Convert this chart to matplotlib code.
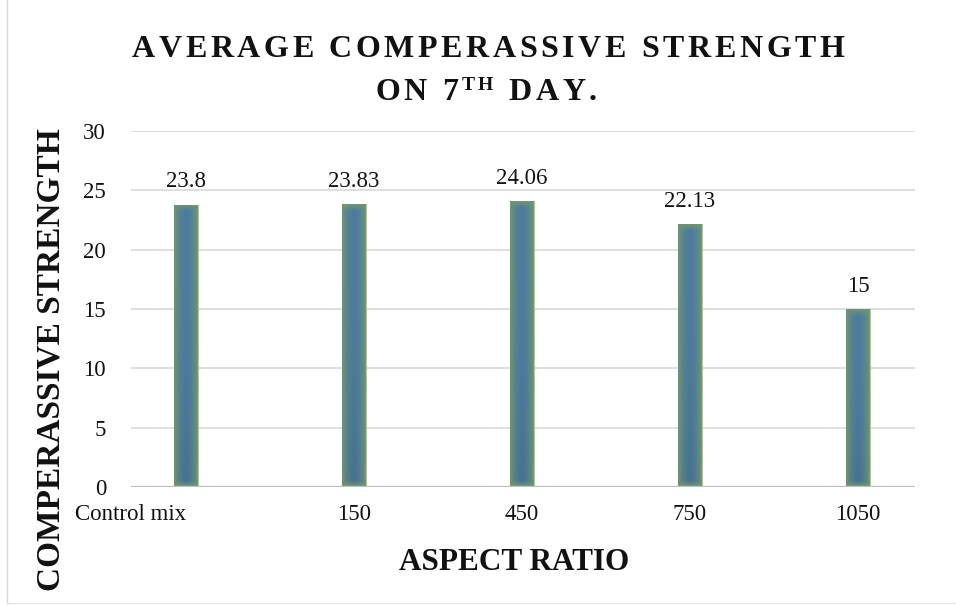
import numpy as np
import matplotlib
matplotlib.use("Agg")
import matplotlib.pyplot as plt
from matplotlib.font_manager import FontProperties
from matplotlib.colors import to_rgb

# Data
categories = ["Control mix", "150", "450", "750", "1050"]
strength = [23.8, 23.83, 24.06, 22.13, 15]
value_labels = ["23.8", "23.83", "24.06", "22.13", "15"]
y_ticks = [0, 5, 10, 15, 20, 25, 30]

SERIF = "Liberation Serif"
W, H = 956, 605

fig = plt.figure(figsize=(W / 100, H / 100), dpi=100)
fig.patch.set_facecolor("white")

# plot area in pixel coordinates
left, right, bottom, top = 131, 915, 487, 131
ax = fig.add_axes([left / W, 1 - bottom / H, (right - left) / W, (bottom - top) / H])

x = np.arange(len(categories))
ax.set_xlim(-0.327, 4.339)
ax.set_ylim(0, 30)
bar_w = 0.14

# gridlines
for t in y_ticks[1:]:
    ax.axhline(t, color="#D9D9D9", lw=1.2, zorder=0)
ax.axhline(0, color="#BFBFBF", lw=2.4, zorder=3)
for s in ax.spines.values():
    s.set_visible(False)

# gradient bars: steel blue core, green-grey rims
c_mid = np.array(to_rgb("#4A7BA0"))
c_edge = np.array(to_rgb("#6E9474"))
c_low = np.array(to_rgb("#3F6480"))
bars = ax.bar(x, strength, width=bar_w, color="#4F7E98", zorder=2, linewidth=0)
for b, v in zip(bars, strength):
    nx, ny = 40, 200
    u = np.linspace(-1, 1, nx)
    hx = np.abs(u) ** 1.6
    yy = np.linspace(0, 1, ny)
    shade = 0.45 * (1 - yy) ** 3  # darker toward the bottom
    img = np.empty((ny, nx, 3))
    for k in range(3):
        mid = c_mid[k] * (1 - shade)[:, None] + c_low[k] * shade[:, None]
        img[:, :, k] = mid * (1 - hx[None, :]) + c_edge[k] * hx[None, :]
    px_h = v * (bottom - top) / 30.0
    rim = np.clip(1 - (yy * px_h) / 6, 0, 1) + np.clip(1 - ((1 - yy) * px_h) / 6, 0, 1)
    rim = np.clip(rim, 0, 1)[:, None, None]
    img = img * (1 - rim) + c_edge[None, None, :] * rim
    im = ax.imshow(img, extent=[b.get_x(), b.get_x() + b.get_width(), 0, v],
                   origin="lower", aspect="auto", zorder=2.5, interpolation="bilinear")
    im.set_clip_path(b)
    # thin light rim on the right side
    ax.plot([b.get_x() + b.get_width()] * 2, [0, v], color="#B5CC8E", lw=0.8, zorder=2.6)

# value labels
for xi, v, lab in zip(x, strength, value_labels):
    ax.annotate(lab, (xi, v), xytext=(0, 12.5), textcoords="offset points",
                ha="center", va="baseline", fontsize=16.5, family=SERIF, color="#111111")

ax.set_yticks(y_ticks)
ax.set_yticklabels([str(t) for t in y_ticks], fontsize=16.5, family=SERIF)
ax.set_xticks(x)
ax.set_xticklabels(categories, fontsize=16.5, family=SERIF)
ax.tick_params(axis="both", length=0, colors="#111111")
ax.tick_params(axis="y", pad=18)
ax.tick_params(axis="x", pad=12)
ax.get_xticklabels()[0].set_horizontalalignment("right")

# axis titles
fig.text(51 / W, 1 - 360 / H, "COMPERASSIVE STRENGTH", rotation=90, ha="center", va="center",
         fontsize=24, fontweight="bold", family=SERIF, color="#111111")
fig.text(514 / W, 1 - 562 / H, "ASPECT RATIO", ha="center", va="center",
         fontsize=22.5, fontweight="bold", family=SERIF, color="#111111")


# letter-spaced chart title
def spaced_line(pieces, cx, baseline_px, gap):
    renderer = fig.canvas.get_renderer()
    items = []
    for text, size, rise in pieces:
        fp = FontProperties(family=SERIF, weight="bold", size=size)
        for ch in text:
            w, _, _ = renderer.get_text_width_height_descent(ch, fp, ismath=False)
            items.append((ch, fp, w, rise))
    total = sum(it[2] for it in items) + gap * (len(items) - 1)
    xpos = cx - total / 2
    for ch, fp, w, rise in items:
        fig.text(xpos / W, 1 - (baseline_px - rise) / H, ch, fontproperties=fp,
                 ha="left", va="baseline", color="#111111")
        xpos += w + gap


spaced_line([("AVERAGE COMPERASSIVE STRENGTH", 23, 0)], 488, 57, 3.6)
spaced_line([("ON 7", 23, 0), ("TH", 14, 10), (" DAY.", 23, 0)], 486, 100, 3.6)

# outer chart border
fig.add_artist(plt.Line2D([7 / W, 7 / W], [1 - 603 / H, 1], transform=fig.transFigure,
                          color="#D9D9D9", lw=1.0))
fig.add_artist(plt.Line2D([7 / W, 1], [1 - 603 / H, 1 - 603 / H], transform=fig.transFigure,
                          color="#E6E6E6", lw=1.0))

fig.savefig("out.png", dpi=100, facecolor="white")
